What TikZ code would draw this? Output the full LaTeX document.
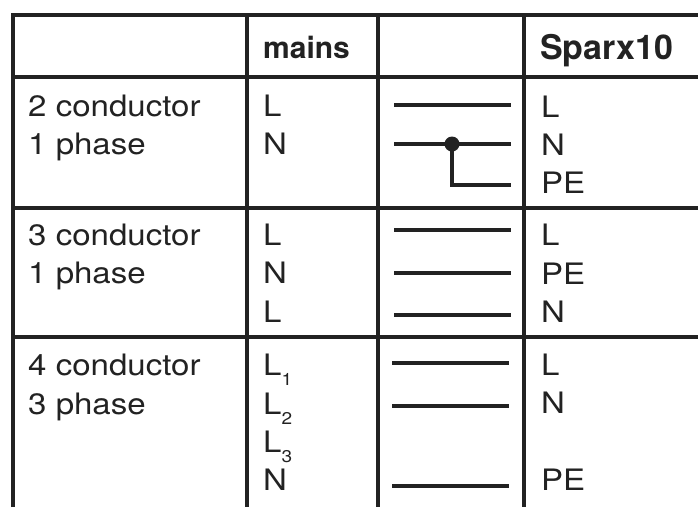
\documentclass[tikz,border=0pt]{standalone}
\usepackage{fontspec}
\setmainfont[FakeStretch=1.12]{TeX Gyre Heros}
\newfontfamily\hdfont{TeX Gyre Heros}
\usetikzlibrary{positioning}

\definecolor{ink}{HTML}{222222}
\newcommand\Lsub[1]{L\raisebox{-10pt}{\fontsize{17}{17}\selectfont #1}}

\begin{document}
\begin{tikzpicture}[x=1pt, y=-1pt, every node/.style={anchor=base west, inner sep=0pt, text=ink, font=\fontsize{29.5}{35}\selectfont},
                    hd/.style={font=\fontsize{30}{36}\hdfont\bfseries},
                    rule/.style={line width=3.5pt, draw=ink},
                    wire/.style={line width=4pt, draw=ink}]
\useasboundingbox (0,0) rectangle (698,507);

% Grid
\draw[rule] (13,507) -- (13,15) -- (698,15);
\draw[rule] (13,77) -- (698,77);
\draw[rule] (13,208) -- (698,208);
\draw[rule] (13,337) -- (698,337);
\draw[rule] (247,15) -- (247,507);
\draw[rule] (378,15) -- (378,507);
\draw[rule] (524,15) -- (524,507);

% Header
\node[hd] (mains) at (263,58) {mains};
\node[hd, font=\fontsize{34}{40}\hdfont\bfseries] (sparx) at (540,59) {Sparx10};

% Row 1
\node (t1a) at (28,116) {2 conductor};
\node (t1b) at (28,154) {1 phase};
\node (m1L) at (263,116) {L};
\node (m1N) at (263,154) {N};
\node (s1L) at (541,117) {L};
\node (s1N) at (541,155) {N};
\node (s1P) at (541,193) {PE};

% Row 2
\node (t2a) at (28,245) {3 conductor};
\node (t2b) at (28,283) {1 phase};
\node (m2L) at (263,245) {L};
\node (m2N) at (263,283) {N};
\node (m2M) at (263,322) {L};
\node (s2L) at (541,245) {L};
\node (s2P) at (541,284) {PE};
\node (s2N) at (541,322) {N};

% Row 3
\node (t3a) at (28,375) {4 conductor};
\node (t3b) at (28,414) {3 phase};
\node (m3A) at (263,375) {\Lsub{1}};
\node (m3B) at (263,414) {\Lsub{2}};
\node (m3C) at (263,452) {\Lsub{3}};
\node (m3N) at (263,490) {N};
\node (s3L) at (541,375) {L};
\node (s3N) at (541,413) {N};
\node (s3P) at (541,490) {PE};

% Wires
\draw[wire] (394,105) -- (511,105);
\draw[wire] (394,144) -- (511,144);
\draw[wire] (452,144) -- (452,185) -- (511,185);
\fill[ink] (452,144) circle (7.5);
\draw[wire] (394,230) -- (511,230);
\draw[wire] (394,273) -- (511,273);
\draw[wire] (394,315) -- (511,315);
\draw[wire] (392,363) -- (509,363);
\draw[wire] (392,406) -- (509,406);
\draw[wire] (392,486) -- (509,486);

\end{tikzpicture}
\end{document}
